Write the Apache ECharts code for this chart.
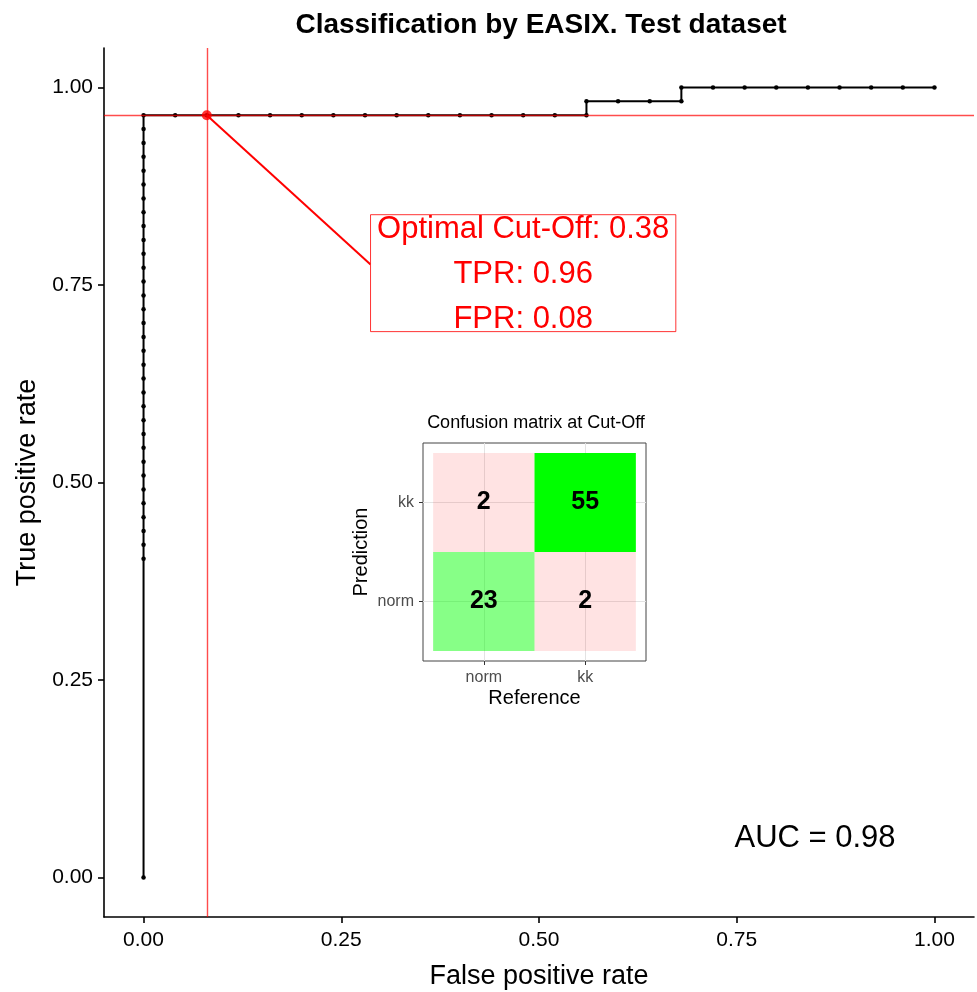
<!DOCTYPE html>
<html><head><meta charset="utf-8">
<style>html,body{margin:0;padding:0;background:#fff}#c{width:977px;height:992px}</style>
<script src="https://cdn.jsdelivr.net/npm/echarts@6.0.0/dist/echarts.min.js"></script>
</head><body><div id="c"></div>
<script>
// ROC curve points (false positive rate, true positive rate)
const fprValues = [
  0, 0, 0, 0, 0, 0, 0, 0, 0, 0,
  0, 0, 0, 0, 0, 0, 0, 0, 0, 0,
  0, 0, 0, 0, 0, 0, 0, 0, 0, 0,
  0, 0, 0, 0,
  0.04, 0.08, 0.12, 0.16, 0.20, 0.24, 0.28, 0.32, 0.36, 0.40, 0.44, 0.48, 0.52, 0.56,
  0.56, 0.60, 0.64, 0.68,
  0.68, 0.72, 0.76, 0.80, 0.84, 0.88, 0.92, 0.96, 1.00
];
const tprValues = [
  0.0000, 0.4035, 0.4211, 0.4386, 0.4561, 0.4737, 0.4912, 0.5088, 0.5263, 0.5439,
  0.5614, 0.5789, 0.5965, 0.6140, 0.6316, 0.6491, 0.6667, 0.6842, 0.7018, 0.7193,
  0.7368, 0.7544, 0.7719, 0.7895, 0.8070, 0.8246, 0.8421, 0.8596, 0.8772, 0.8947,
  0.9123, 0.9298, 0.9474, 0.9649,
  0.9649, 0.9649, 0.9649, 0.9649, 0.9649, 0.9649, 0.9649, 0.9649, 0.9649, 0.9649, 0.9649, 0.9649, 0.9649, 0.9649,
  0.9825, 0.9825, 0.9825, 0.9825,
  1.0000, 1.0000, 1.0000, 1.0000, 1.0000, 1.0000, 1.0000, 1.0000, 1.0000
];
const cutoffFpr = [0.08];
const cutoffTpr = [0.9649];
const xTickValues = [0, 0.25, 0.5, 0.75, 1];
const yTickValues = [0, 0.25, 0.5, 0.75, 1];
const annotationLines = ['Optimal Cut-Off: 0.38', 'TPR: 0.96', 'FPR: 0.08'];
const aucText = 'AUC = 0.98';
const cmReference = ['norm', 'kk'];
const cmPrediction = ['norm', 'kk'];
// cmCounts[predictionIndex][referenceIndex]
const cmCounts = [[23, 2], [2, 55]];

const FONT = '"Liberation Sans", Arial, Helvetica, sans-serif';
const X_MIN = -0.05, X_MAX = 1.05, Y_MIN = -0.05, Y_MAX = 1.05;
const chart = echarts.init(document.getElementById('c'), null, {renderer: 'canvas'});

const rocData = fprValues.map((x, i) => [x, tprValues[i]]);
const cutData = cutoffFpr.map((x, i) => [x, cutoffTpr[i]]);
const maxCount = Math.max(...cmCounts.flat());
const cmData = [];
cmPrediction.forEach((p, i) => cmReference.forEach((r, j) => {
  cmData.push([j + 1, i + 1, cmCounts[i][j], i === j ? 1 : 0]);
}));

function tileColor(v, correct) {
  if (!correct) return 'rgba(255,0,0,0.11)';
  return v === maxCount ? '#00ff00' : 'rgba(0,255,0,0.47)';
}

const option = {
  backgroundColor: '#fff',
  animation: false,
  textStyle: {fontFamily: FONT},
  grid: [
    {left: 104, right: 3, top: 48, bottom: 75, containLabel: false, outerBoundsMode: 'none'},
    {left: 423, top: 443, width: 223, height: 218, show: true, borderColor: '#444', borderWidth: 1, backgroundColor: 'transparent', z: 5, containLabel: false, outerBoundsMode: 'none'}
  ],
  xAxis: [
    {
      type: 'value', gridIndex: 0, min: X_MIN, max: X_MAX,
      name: 'False positive rate', nameLocation: 'middle', nameGap: 46,
      nameTextStyle: {fontSize: 27, color: '#000', fontFamily: FONT},
      axisLine: {show: true, onZero: false, lineStyle: {color: '#000', width: 1.6}},
      axisTick: {show: true, length: 6, lineStyle: {color: '#000', width: 1.6}, customValues: xTickValues},
      axisLabel: {fontSize: 21, color: '#000', margin: 13, fontFamily: FONT, customValues: xTickValues, formatter: v => v.toFixed(2)},
      splitLine: {show: false}
    },
    {
      type: 'value', gridIndex: 1, min: 0.4, max: 2.6,
      name: 'Reference', nameLocation: 'middle', nameGap: 27,
      nameTextStyle: {fontSize: 20, color: '#000', fontFamily: FONT},
      axisLine: {show: false},
      axisTick: {show: true, length: 4, lineStyle: {color: '#333', width: 1}, customValues: cmReference.map((_, i) => i + 1)},
      axisLabel: {fontSize: 16, color: '#4d4d4d', margin: 9, fontFamily: FONT, customValues: cmReference.map((_, i) => i + 1), formatter: v => cmReference[Math.round(v) - 1]},
      splitLine: {show: false}
    }
  ],
  yAxis: [
    {
      type: 'value', gridIndex: 0, min: Y_MIN, max: Y_MAX,
      name: 'True positive rate', nameLocation: 'middle', nameGap: 60,
      nameTextStyle: {fontSize: 27, color: '#000', fontFamily: FONT},
      axisLine: {show: true, onZero: false, lineStyle: {color: '#000', width: 1.6}},
      axisTick: {show: true, length: 6, lineStyle: {color: '#000', width: 1.6}, customValues: yTickValues},
      axisLabel: {fontSize: 21, color: '#000', margin: 11, padding: [4, 0, 0, 0], fontFamily: FONT, customValues: yTickValues, formatter: v => v.toFixed(2)},
      splitLine: {show: false}
    },
    {
      type: 'value', gridIndex: 1, min: 0.4, max: 2.6,
      name: 'Prediction', nameLocation: 'middle', nameGap: 52,
      nameTextStyle: {fontSize: 20, color: '#000', fontFamily: FONT},
      axisLine: {show: false},
      axisTick: {show: true, length: 4, lineStyle: {color: '#333', width: 1}, customValues: cmPrediction.map((_, i) => i + 1)},
      axisLabel: {fontSize: 16, color: '#4d4d4d', margin: 9, fontFamily: FONT, customValues: cmPrediction.map((_, i) => i + 1), formatter: v => cmPrediction[Math.round(v) - 1]},
      splitLine: {show: false}
    }
  ],
  graphic: [
    {type: 'text', x: 541, y: 25, z: 100, style: {text: 'Classification by EASIX. Test dataset', font: 'bold 28px ' + FONT, fill: '#000', align: 'center', verticalAlign: 'middle'}},
    {type: 'text', x: 536, y: 423, z: 100, style: {text: 'Confusion matrix at Cut-Off', font: '18px ' + FONT, fill: '#000', align: 'center', verticalAlign: 'middle'}}
  ],
  series: [
    {
      type: 'line', xAxisIndex: 0, yAxisIndex: 0, data: rocData, z: 3,
      lineStyle: {color: '#000', width: 2},
      itemStyle: {color: '#000'},
      symbol: 'circle', symbolSize: 4.5, showSymbol: true, showAllSymbol: true,
      silent: true
    },
    {
      type: 'scatter', xAxisIndex: 0, yAxisIndex: 0, data: cutData, z: 4,
      symbol: 'circle', symbolSize: 10, itemStyle: {color: '#ff0000'}, silent: true,
      markLine: {
        silent: true, symbol: 'none', label: {show: false}, precision: 6,
        lineStyle: {color: 'rgba(255,0,0,0.7)', width: 1.4, type: 'solid'},
        data: [
          [{coord: [cutoffFpr[0], Y_MIN]}, {coord: [cutoffFpr[0], Y_MAX]}],
          [{coord: [X_MIN, cutoffTpr[0]]}, {coord: [X_MAX, cutoffTpr[0]]}],
          [{coord: [cutoffFpr[0], cutoffTpr[0]], lineStyle: {color: '#ff0000', width: 2, opacity: 1}}, {coord: [0.287, 0.776]}]
        ]
      }
    },
    {
      type: 'custom', xAxisIndex: 0, yAxisIndex: 0, data: [[0.48, 0.765]], z: 6, silent: true,
      renderItem: function (params, api) {
        const tl = api.coord([0.287, 0.839]);
        const br = api.coord([0.673, 0.691]);
        const auc = api.coord([0.849, 0.049]);
        return {type: 'group', children: [
          {type: 'rect', shape: {x: tl[0], y: tl[1], width: br[0] - tl[0], height: br[1] - tl[1]},
           style: {fill: '#fff', stroke: 'rgba(255,0,0,0.8)', lineWidth: 1}},
          {type: 'text', x: (tl[0] + br[0]) / 2, y: (tl[1] + br[1]) / 2 + 1,
           style: {text: annotationLines.join('\n'), fill: '#ff0000', font: '31px ' + FONT, align: 'center', verticalAlign: 'middle', lineHeight: 45}},
          {type: 'text', x: auc[0], y: auc[1],
           style: {text: aucText, fill: '#000', font: '31px ' + FONT, align: 'center', verticalAlign: 'middle'}}
        ]};
      }
    },
    {
      type: 'line', xAxisIndex: 1, yAxisIndex: 1, data: [], z: 2, silent: true,
      markLine: {
        silent: true, symbol: 'none', label: {show: false},
        lineStyle: {color: '#e3e3e3', width: 1, type: 'solid'},
        data: cmReference.map((_, i) => ({xAxis: i + 1})).concat(cmPrediction.map((_, i) => ({yAxis: i + 1})))
      }
    },
    {
      type: 'custom', xAxisIndex: 1, yAxisIndex: 1, data: cmData, z: 7, silent: true,
      renderItem: function (params, api) {
        const x = api.value(0), y = api.value(1), v = api.value(2), correct = api.value(3) === 1;
        const p0 = api.coord([x - 0.5, y + 0.5]);
        const p1 = api.coord([x + 0.5, y - 0.5]);
        const c = api.coord([x, y]);
        return {type: 'group', children: [
          {type: 'rect', shape: {x: p0[0], y: p0[1], width: p1[0] - p0[0], height: p1[1] - p0[1]}, style: {fill: tileColor(v, correct)}},
          {type: 'text', x: c[0], y: c[1], style: {text: String(v), fill: '#000', font: 'bold 25px ' + FONT, align: 'center', verticalAlign: 'middle'}}
        ]};
      }
    }
  ]
};
chart.setOption(option);
</script>
</body></html>
